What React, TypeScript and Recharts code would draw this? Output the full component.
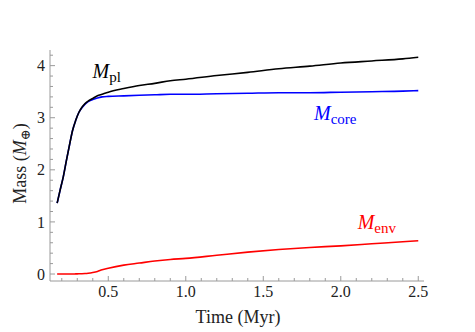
import { LineChart, Line, XAxis, YAxis, ReferenceDot } from 'recharts';

// Time in Myr
const time = [
  0.17, 0.19, 0.21, 0.23, 0.25, 0.27, 0.29, 0.31, 0.33, 0.35, 0.37, 0.4, 0.43, 0.46,
  0.5, 0.6, 0.7, 0.8, 0.9, 1.0, 1.2, 1.4, 1.6, 1.8, 2.0, 2.2, 2.4, 2.5,
];
// masses in Earth masses
const planetMass = [
  1.36, 1.62, 1.87, 2.18, 2.48, 2.76, 2.95, 3.1, 3.2, 3.27, 3.32, 3.37, 3.42, 3.45,
  3.49, 3.56, 3.62, 3.66, 3.71, 3.74, 3.81, 3.87, 3.94, 3.99, 4.05, 4.09, 4.13, 4.16,
];
const coreMass = [
  1.36, 1.62, 1.87, 2.18, 2.48, 2.76, 2.95, 3.1, 3.19, 3.26, 3.31, 3.35, 3.38, 3.4,
  3.41, 3.42, 3.43, 3.44, 3.45, 3.45, 3.46, 3.47, 3.48, 3.48, 3.49, 3.5, 3.51, 3.52,
];
const envelopeMass = [
  0, 0, 0, 0, 0, 0, 0.002, 0.004, 0.006, 0.01, 0.016, 0.03, 0.05, 0.08,
  0.11, 0.17, 0.21, 0.25, 0.28, 0.3, 0.36, 0.42, 0.47, 0.51, 0.54, 0.58, 0.62, 0.64,
];

const xTicks = [
  0.2, 0.3, 0.4, 0.5, 0.6, 0.7, 0.8, 0.9, 1.0, 1.1, 1.2, 1.3, 1.4, 1.5, 1.6, 1.7, 1.8,
  1.9, 2.0, 2.1, 2.2, 2.3, 2.4, 2.5,
];
const xMajor = [0.5, 1.0, 1.5, 2.0, 2.5];
const yTicks = [
  0, 0.2, 0.4, 0.6, 0.8, 1, 1.2, 1.4, 1.6, 1.8, 2, 2.2, 2.4, 2.6, 2.8, 3, 3.2, 3.4, 3.6,
  3.8, 4, 4.2,
];
const yMajor = [0, 1, 2, 3, 4];

const curveLabels = [
  { x: 0.399, y: 3.77, sub: 'pl', color: '#000000' },
  { x: 1.827, y: 2.96, sub: 'core', color: '#0000ff' },
  { x: 2.109, y: 0.86, sub: 'env', color: '#ff0000' },
];

const FONT = '"Liberation Serif", "DejaVu Serif", serif';
const FRAME = '#9a9a9a';
const textStyle = { fontFamily: FONT };

const data = time.map((t, i) => ({
  t,
  pl: planetMass[i],
  core: coreMass[i],
  env: envelopeMass[i],
}));

function makeTick(side: 'bottom' | 'top' | 'left' | 'right') {
  return (props: any) => {
    const { x, y, payload } = props;
    const v = payload.value;
    const horizontal = side === 'bottom' || side === 'top';
    const major = horizontal ? xMajor.includes(v) : yMajor.includes(v);
    const len = major ? 5 : 3;
    let line;
    if (side === 'bottom') line = <line x1={x} y1={y} x2={x} y2={y - len} stroke={FRAME} />;
    else if (side === 'top') line = <line x1={x} y1={y} x2={x} y2={y + len} stroke={FRAME} />;
    else if (side === 'left') line = <line x1={x} y1={y} x2={x + len} y2={y} stroke={FRAME} />;
    else line = <line x1={x} y1={y} x2={x - len} y2={y} stroke={FRAME} />;
    let label = null;
    if (major && side === 'bottom') {
      label = (
        <text x={x} y={y + 16} textAnchor="middle" fontSize={16} style={textStyle} fill="#222">
          {v.toFixed(1)}
        </text>
      );
    } else if (major && side === 'left') {
      label = (
        <text x={x - 5} y={y} dy="0.35em" textAnchor="end" fontSize={16} style={textStyle} fill="#222">
          {v}
        </text>
      );
    }
    return (
      <g>
        {line}
        {label}
      </g>
    );
  };
}

const CurveLabel = ({ cx, cy, sub, color }: any) => (
  <text x={cx} y={cy} style={textStyle} fill={color}>
    <tspan fontSize={20} fontStyle="italic">M</tspan>
    <tspan fontSize={15} dy={4}>{sub}</tspan>
  </text>
);

const XLabel = ({ viewBox }: any) => (
  <text
    x={viewBox.x + viewBox.width / 2 + 1}
    y={viewBox.y + 42}
    textAnchor="middle"
    fontSize={18}
    style={textStyle}
    fill="#222"
  >
    Time (Myr)
  </text>
);

const YLabel = ({ viewBox }: any) => {
  const cx = 26;
  const cy = viewBox.y + viewBox.height / 2 - 2;
  return (
    <text
      x={cx}
      y={cy}
      transform={`rotate(-90 ${cx} ${cy})`}
      textAnchor="middle"
      fontSize={18}
      style={textStyle}
      fill="#222"
    >
      Mass (<tspan fontStyle="italic">M</tspan>
      <tspan fontSize={13} dy={4}>⊕</tspan>
      <tspan dy={-4}>)</tspan>
    </text>
  );
};

export default function App() {
  const xDomain = [0.124, 2.537];
  const yDomain = [-0.134, 4.3];
  return (
    <div style={{ position: 'absolute', left: 0, top: 0, background: '#fff' }}>
      <LineChart width={475} height={332} data={data} margin={{ top: 50, right: 51, bottom: 0, left: 0 }}>
        <XAxis
          dataKey="t"
          type="number"
          domain={xDomain}
          allowDataOverflow
          ticks={xTicks}
          interval={0}
          height={51}
          stroke={FRAME}
          tickLine={false}
          tickSize={0}
          tickMargin={0}
          tick={makeTick('bottom')}
          label={<XLabel />}
        />
        <XAxis
          xAxisId="top"
          orientation="top"
          type="number"
          domain={xDomain}
          allowDataOverflow
          ticks={xTicks}
          interval={0}
          height={0}
          stroke={FRAME}
          tickLine={false}
          tickSize={0}
          tickMargin={0}
          tick={makeTick('top')}
        />
        <YAxis
          type="number"
          domain={yDomain}
          allowDataOverflow
          ticks={yTicks}
          interval={0}
          width={50}
          stroke={FRAME}
          tickLine={false}
          tickSize={0}
          tickMargin={0}
          tick={makeTick('left')}
          label={<YLabel />}
        />
        <YAxis
          yAxisId="right"
          orientation="right"
          type="number"
          domain={yDomain}
          allowDataOverflow
          ticks={yTicks}
          interval={0}
          width={0}
          stroke={FRAME}
          tickLine={false}
          tickSize={0}
          tickMargin={0}
          tick={makeTick('right')}
        />
        <Line type="monotone" dataKey="env" stroke="#ff0000" strokeWidth={1.6} dot={false} isAnimationActive={false} />
        <Line type="monotone" dataKey="core" stroke="#0000ff" strokeWidth={1.6} dot={false} isAnimationActive={false} />
        <Line type="monotone" dataKey="pl" stroke="#000000" strokeWidth={1.6} dot={false} isAnimationActive={false} />
        {curveLabels.map((c) => (
          <ReferenceDot
            key={c.sub}
            x={c.x}
            y={c.y}
            r={0}
            ifOverflow="visible"
            shape={(p: any) => <CurveLabel cx={p.cx} cy={p.cy} sub={c.sub} color={c.color} />}
          />
        ))}
      </LineChart>
    </div>
  );
}
